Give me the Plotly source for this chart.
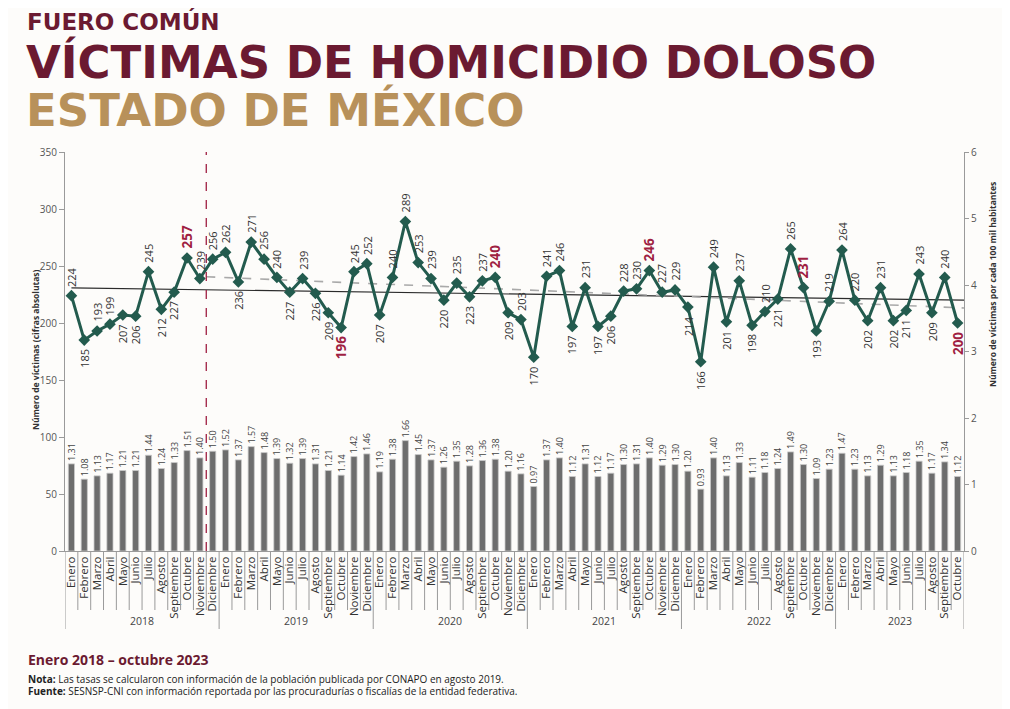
import numpy as np
import plotly.graph_objects as go

YEARS = ["2018", "2019", "2020", "2021", "2022", "2023"]
MONTHS = ["Enero", "Febrero", "Marzo", "Abril", "Mayo", "Junio", "Julio",
          "Agosto", "Septiembre", "Octubre", "Noviembre", "Diciembre"]

VICTIMS_2018 = [224, 185, 193, 199, 207, 206, 245, 212, 227, 257, 239, 256]
VICTIMS_2019 = [262, 236, 271, 256, 240, 227, 239, 226, 209, 196, 245, 252]
VICTIMS_2020 = [207, 240, 289, 253, 239, 220, 235, 223, 237, 240, 209, 203]
VICTIMS_2021 = [170, 241, 246, 197, 231, 197, 206, 228, 230, 246, 227, 229]
VICTIMS_2022 = [214, 166, 249, 201, 237, 198, 210, 221, 265, 231, 193, 219]
VICTIMS_2023 = [264, 220, 202, 231, 202, 211, 243, 209, 240, 200]

RATES_2018 = [1.31, 1.08, 1.13, 1.17, 1.21, 1.21, 1.44, 1.24, 1.33, 1.51, 1.40, 1.50]
RATES_2019 = [1.52, 1.37, 1.57, 1.48, 1.39, 1.32, 1.39, 1.31, 1.21, 1.14, 1.42, 1.46]
RATES_2020 = [1.19, 1.38, 1.66, 1.45, 1.37, 1.26, 1.35, 1.28, 1.36, 1.38, 1.20, 1.16]
RATES_2021 = [0.97, 1.37, 1.40, 1.12, 1.31, 1.12, 1.17, 1.30, 1.31, 1.40, 1.29, 1.30]
RATES_2022 = [1.20, 0.93, 1.40, 1.13, 1.33, 1.11, 1.18, 1.24, 1.49, 1.30, 1.09, 1.23]
RATES_2023 = [1.47, 1.23, 1.13, 1.29, 1.13, 1.18, 1.35, 1.17, 1.34, 1.12]

# label side for the victims line (u = above the point, d = below) -- styling only
LABEL_SIDE = list("uduuddudduuu" "uduuududdduu" "duuuududuudu"
                  "duududduuuuu" "ddudududuudu" "uududdudud")

victims = (VICTIMS_2018 + VICTIMS_2019 + VICTIMS_2020 + VICTIMS_2021
           + VICTIMS_2022 + VICTIMS_2023)
rates = RATES_2018 + RATES_2019 + RATES_2020 + RATES_2021 + RATES_2022 + RATES_2023
year_lists = [VICTIMS_2018, VICTIMS_2019, VICTIMS_2020, VICTIMS_2021, VICTIMS_2022, VICTIMS_2023]
month_labels = []
for y, lst in zip(YEARS, year_lists):
    for k in range(len(lst)):
        month_labels.append(MONTHS[k])
n = len(victims)
idx = np.arange(n)

GREEN = "#235b4e"
MAROON = "#6b1a31"
GOLD = "#b8915a"
RED = "#9f1f42"
OFF = 8  # default page margin around the figure
W, H = 1002, 701
ML, MR, MT, MB = 57, 46, 144, 158
PW, PH = W - ML - MR, H - MT - MB


def py(pix):  # page pixel -> paper y
    return (H - MB - (pix - OFF)) / PH


def px(pix):  # page pixel -> paper x
    return (pix - OFF - ML) / PW


fig = go.Figure()

fig.add_trace(go.Bar(
    x=idx, y=rates, yaxis="y2", width=0.48,
    marker=dict(color="#6d6d6d", line=dict(color="#c9c9c9", width=0.8)),
    text=[f"{r:.2f}" for r in rates], textposition="outside", textangle=-90,
    textfont=dict(family="Open Sans", size=9, color="#444"),
    constraintext="none", cliponaxis=False, hoverinfo="skip",
))

# trend lines
c_all = np.polyfit(idx, victims, 1)
xa = np.array([0, n - 0.5])
fig.add_trace(go.Scatter(x=xa, y=np.polyval(c_all, xa), mode="lines",
                         line=dict(color="#2b2b2b", width=1.2), hoverinfo="skip"))
start = YEARS.index("2018") * 12 + MONTHS.index("Diciembre")
c_p = np.polyfit(idx[start:], np.array(victims[start:]), 1)
xb = np.array([start - 0.5, n - 0.5])
fig.add_trace(go.Scatter(x=xb, y=np.polyval(c_p, xb), mode="lines",
                         line=dict(color="#a9a9a9", width=1.6, dash="dash"), hoverinfo="skip"))

fig.add_trace(go.Scatter(
    x=idx, y=victims, mode="lines+markers",
    line=dict(color=GREEN, width=3),
    marker=dict(symbol="diamond", size=9, color=GREEN),
    cliponaxis=False, hoverinfo="skip",
))

ann = []
for i, v in enumerate(victims):
    red = month_labels[i] == "Octubre"
    up = LABEL_SIDE[i] == "u"
    ann.append(dict(
        x=i, y=v, xref="x", yref="y", text=f"<b>{v}</b>" if red else str(v),
        textangle=-90, showarrow=False, xanchor="center",
        yanchor="bottom" if up else "top", yshift=7 if up else -7,
        font=dict(family="Open Sans", size=13.5 if red else 11,
                  color=RED if red else "#333"),
    ))

# year labels and dividers
pos = 0
shapes = []
for y, lst in zip(YEARS, year_lists):
    m = len(lst)
    ann.append(dict(x=pos + (m - 1) / 2, y=py(621), xref="x", yref="paper",
                    xanchor="center", yanchor="middle",
                    text=y, showarrow=False, font=dict(family="Open Sans", size=10.5, color="#444")))
    shapes.append(dict(type="line", xref="x", yref="paper", x0=pos - 0.5, x1=pos - 0.5,
                       y0=0, y1=py(629), line=dict(color="#9a9a9a", width=1)))
    pos += m
shapes.append(dict(type="line", xref="x", yref="paper", x0=pos - 0.5, x1=pos - 0.5,
                   y0=0, y1=py(629), line=dict(color="#9a9a9a", width=1)))
for i in range(n - 1):
    if month_labels[i + 1] != "Enero":
        shapes.append(dict(type="line", xref="x", yref="paper", x0=i + 0.5, x1=i + 0.5,
                           y0=0, y1=py(610), line=dict(color="#9a9a9a", width=1)))
# administration change marker
shapes.append(dict(type="line", xref="x", yref="paper", x0=start - 0.5, x1=start - 0.5,
                   y0=0, y1=1, line=dict(color=RED, width=1.3, dash="dash")))

# axis titles
ann.append(dict(x=px(35), y=py(350), xref="paper", yref="paper", textangle=-90,
                xanchor="center", yanchor="middle",
                text="<b>Número de víctimas (cifras absolutas)</b>", showarrow=False,
                font=dict(family="Open Sans", size=8.5, color="#333")))
ann.append(dict(x=px(992), y=py(285), xref="paper", yref="paper", textangle=-90,
                xanchor="center", yanchor="middle",
                text="<b>Número de víctimas por cada 100 mil habitantes</b>", showarrow=False,
                font=dict(family="Open Sans", size=8.5, color="#333")))

# titles
ann.append(dict(x=px(26), y=py(21.5), xref="paper", yref="paper", xanchor="left", yanchor="middle",
                text="<b>FUERO COMÚN</b>", showarrow=False, borderpad=0,
                font=dict(family="DejaVu Sans", size=23, color=MAROON)))
ann.append(dict(x=px(25), y=py(62.5), xref="paper", yref="paper", xanchor="left", yanchor="middle",
                text="<b>VÍCTIMAS DE HOMICIDIO DOLOSO</b>", showarrow=False, borderpad=0,
                font=dict(family="DejaVu Sans", size=45, color=MAROON)))
ann.append(dict(x=px(25), y=py(110.5), xref="paper", yref="paper", xanchor="left", yanchor="middle",
                text="<b>ESTADO DE MÉXICO</b>", showarrow=False, borderpad=0,
                font=dict(family="DejaVu Sans", size=45, color=GOLD)))

# footer
ann.append(dict(x=px(26), y=py(659), xref="paper", yref="paper", xanchor="left", yanchor="middle",
                text="<b>Enero 2018 – octubre 2023</b>", showarrow=False,
                font=dict(family="Open Sans", size=14, color=MAROON)))
ann.append(dict(x=px(26), y=py(679), xref="paper", yref="paper", xanchor="left", yanchor="middle",
                text="<b>Nota:</b> Las tasas se calcularon con información de la población publicada por CONAPO en agosto 2019.",
                showarrow=False, font=dict(family="Open Sans", size=10, color="#222")))
ann.append(dict(x=px(26), y=py(691), xref="paper", yref="paper", xanchor="left", yanchor="middle",
                text="<b>Fuente:</b> SESNSP-CNI con información reportada por las procuradurías o fiscalías de la entidad federativa.",
                showarrow=False, font=dict(family="Open Sans", size=10, color="#222")))

fig.update_layout(
    width=W, height=H, margin=dict(l=ML, r=MR, t=MT, b=MB, autoexpand=False),
    paper_bgcolor="#fdfcfa", plot_bgcolor="rgba(0,0,0,0)",
    showlegend=False, bargap=0.5,
    annotations=ann, shapes=shapes,
    xaxis=dict(range=[-0.5, n - 0.5], tickmode="array", tickvals=list(idx), ticktext=month_labels,
               tickangle=-90, tickfont=dict(family="Open Sans", size=11.5, color="#333"),
               showline=True, linecolor="#9a9a9a", linewidth=1, ticks="", showgrid=False,
               zeroline=False, fixedrange=True),
    yaxis=dict(range=[0, 350], dtick=50, showline=True, linecolor="#9a9a9a", ticks="outside",
               ticklen=5, tickcolor="#9a9a9a", tickfont=dict(family="Open Sans", size=10, color="#555"),
               showgrid=False, zeroline=False),
    yaxis2=dict(range=[0, 6], dtick=1, overlaying="y", side="right", showline=True,
                linecolor="#9a9a9a", ticks="outside", ticklen=4, tickcolor="#9a9a9a",
                tickfont=dict(family="Open Sans", size=10, color="#555"),
                showgrid=False, zeroline=False),
)

fig.write_html("out.html")
